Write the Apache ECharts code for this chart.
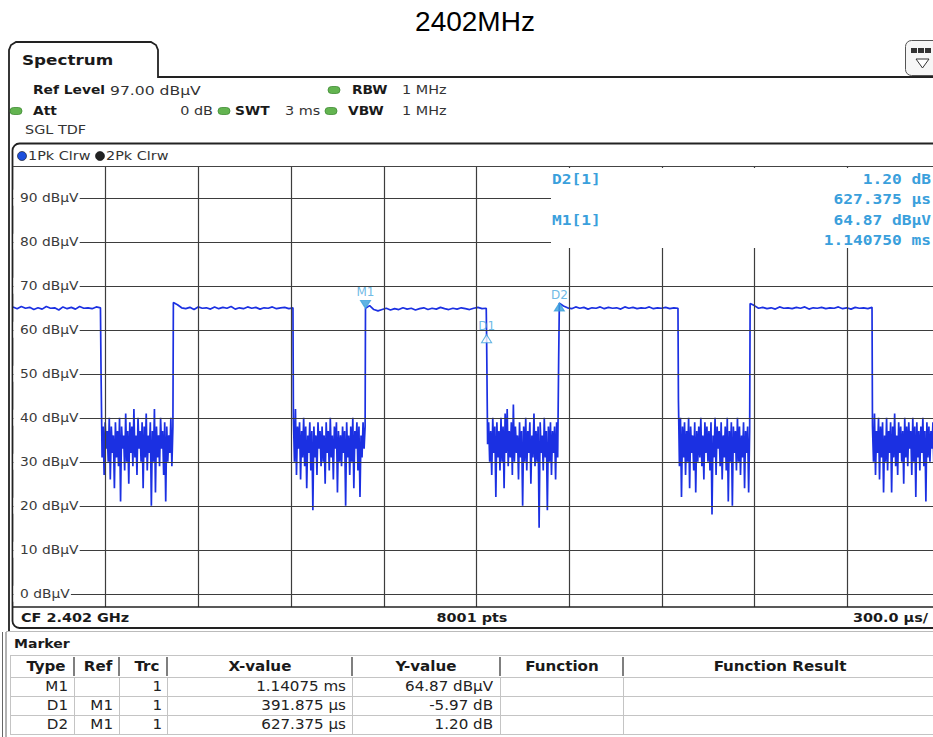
<!DOCTYPE html>
<html>
<head>
<meta charset="utf-8">
<script src="https://cdn.jsdelivr.net/npm/echarts@6/dist/echarts.min.js"></script>
<style>
html,body{margin:0;padding:0;background:#fff;}
#c{width:933px;height:737px;}
</style>
</head>
<body>
<div id="c"></div>
<script>
// ---------------- DATA ----------------
const titleText = '2402MHz';

// trace levels (dBµV), one array per burst / gap, in time order
const high0 = [65.2, 64.8, 65.3, 64.9, 65.1, 64.6, 65.0, 64.7, 65.3, 64.9, 65.0, 64.5, 65.2, 64.8, 65.1, 64.7, 65.3, 64.9, 65.0, 64.8, 65.2, 65.0];
const noise1 = [50, 31, 38, 27, 39, 33, 37, 30, 40, 26, 38, 32, 36, 24, 39, 31, 37, 29, 40, 21, 38, 33, 36, 28, 41, 30, 37, 25, 39, 32, 38, 29, 42, 31, 36, 27, 40, 33, 37, 30, 39, 24, 38, 31, 41, 28, 36, 32, 39, 20, 37, 30, 42, 23, 38, 31, 36, 29, 40, 33, 37, 27, 39, 21, 38, 30, 36, 32, 40, 29, 38];
const high1 = [66.2, 65.7, 65.0, 64.8, 65.1, 64.6, 65.2, 64.9, 65.0, 64.7, 65.2, 64.8, 65.1, 64.9, 65.3, 64.7, 65.0, 64.8, 65.2, 64.9, 65.1, 64.7, 65.0, 64.9, 65.2, 64.8, 65.0, 65.1, 64.8, 65.0];
const noise2 = [40, 30, 42, 27, 38, 33, 39, 26, 37, 31, 40, 29, 38, 24, 36, 32, 39, 28, 37, 19, 38, 31, 36, 27, 39, 33, 37, 29, 38, 30, 36, 25, 39, 32, 37, 28, 40, 31, 36, 26, 38, 33, 39, 23, 37, 30, 36, 29, 38, 32, 37, 20, 39, 31, 36, 27, 38, 30, 40, 24, 37, 33, 39, 28, 38, 22, 36, 31, 39, 33, 38];
const high2 = [64.87, 65.5, 64.6, 64.3, 64.6, 64.9, 64.5, 64.8, 64.6, 65.0, 64.7, 64.9, 64.5, 64.8, 65.0, 64.6, 64.9, 64.7, 65.1, 64.8, 64.6, 64.9, 64.7, 65.0, 64.8, 64.6, 64.9, 65.1, 64.8, 64.9];
const noise3 = [58.9, 34, 39, 30, 37, 27, 40, 32, 38, 22, 39, 31, 37, 28, 40, 30, 38, 24, 41, 32, 42, 29, 37, 31, 39, 27, 43, 30, 38, 32, 36, 26, 39, 31, 37, 20, 38, 30, 40, 28, 37, 32, 39, 25, 36, 31, 41, 29, 37, 30, 38, 15, 39, 32, 36, 28, 40, 31, 37, 19, 38, 30, 39, 27, 37, 32, 38, 26, 39, 31, 54];
const high3 = [66.07, 65.4, 65.0, 64.8, 65.2, 64.9, 65.1, 64.7, 65.0, 64.9, 65.2, 64.8, 65.1, 64.9, 65.0, 64.7, 65.2, 64.9, 65.1, 64.8, 65.0, 64.9, 65.2, 64.8, 65.0, 64.9, 65.1, 64.8, 65.0, 64.9];
const noise4 = [44, 29, 40, 22, 38, 31, 39, 27, 37, 30, 40, 24, 38, 32, 36, 28, 39, 23, 37, 30, 38, 31, 40, 29, 36, 26, 39, 32, 38, 30, 37, 28, 39, 18, 36, 31, 40, 27, 38, 33, 37, 29, 39, 26, 36, 31, 38, 28, 40, 21, 37, 30, 39, 20, 38, 32, 37, 28, 40, 30, 38, 27, 36, 31, 39, 24, 37, 32, 38, 23, 37];
const high4 = [66.0, 65.5, 64.9, 65.1, 64.8, 65.0, 64.7, 65.2, 64.9, 65.0, 64.8, 65.1, 64.9, 65.2, 64.7, 65.0, 64.9, 65.1, 64.8, 65.0, 64.9, 65.2, 64.8, 65.0, 64.7, 65.1, 64.9, 65.0, 64.8, 65.1];
const noise5 = [38, 30, 41, 27, 37, 32, 40, 26, 38, 31, 39, 23, 36, 30, 40, 28, 37, 32, 39, 23, 38, 31, 41, 29, 36, 27, 39, 32, 38, 30, 37, 25, 40, 31, 38, 29, 39, 33, 37, 27, 40, 30, 38, 22, 39, 31, 37, 28, 38, 32, 40, 29, 37, 21, 39, 31, 38, 30, 37, 33, 39, 28, 38, 31, 40, 30, 37, 32];

// time span (ms) of each array above
const segStart = [0, 0.285, 0.519, 0.9075, 1.14075, 1.532625, 1.768125, 2.1535, 2.3855, 2.7815];
const segEnd   = [0.283, 0.5175, 0.906, 1.1395, 1.5315, 1.766, 2.152, 2.384, 2.780, 3.0];
const segValues = [high0, noise1, high1, noise2, high2, noise3, high3, noise4, high4, noise5];

// axes (time in ms, level in dBµV)
const xMin = 0, xMax = 3;           // 300 µs/div, 10 div
const yMin = -3, yMax = 97;         // ref level 97 dBµV, 10 dB/div
const xDivTimes = [0.3, 0.6, 0.9, 1.2, 1.5, 1.8, 2.1, 2.4, 2.7];
const yTickValues = [0, 10, 20, 30, 40, 50, 60, 70, 80, 90];
const yTickLabels = ['0 dBµV', '10 dBµV', '20 dBµV', '30 dBµV', '40 dBµV', '50 dBµV', '60 dBµV', '70 dBµV', '80 dBµV', '90 dBµV'];

// markers
const markerNames = ['M1', 'D1', 'D2'];
const markerTimes = [1.14075, 1.532625, 1.768125];
const markerLevels = [64.87, 58.90, 66.07];

// marker info box
const infoLabels = ['D2[1]', 'M1[1]'];
const infoValues = ['1.20 dB', '627.375 µs', '64.87 dBµV', '1.140750 ms'];

// marker table
const tableHeader = ['Type', 'Ref', 'Trc', 'X-value', 'Y-value', 'Function', 'Function Result'];
const tableRows = [
  ['M1', '', '1', '1.14075 ms', '64.87 dBµV', '', ''],
  ['D1', 'M1', '1', '391.875 µs', '-5.97 dB', '', ''],
  ['D2', 'M1', '1', '627.375 µs', '1.20 dB', '', '']
];

// settings text
const hdrRefLabel = 'Ref Level', hdrRefValue = '97.00 dBµV';
const hdrAtt = 'Att', hdrAttValue = '0 dB';
const hdrRBW = 'RBW', hdrRBWValue = '1 MHz';
const hdrSWT = 'SWT', hdrSWTValue = '3 ms';
const hdrVBW = 'VBW', hdrVBWValue = '1 MHz';
const hdrMode = 'SGL TDF';
const traceNames = ['1Pk Clrw', '2Pk Clrw'];
const footLeft = 'CF 2.402 GHz', footMid = '8001 pts', footRight = '300.0 µs/';

// ---------------- BUILD ----------------
const trace = [];
segValues.forEach((vals, s) => {
  const n = vals.length;
  vals.forEach((v, k) => {
    trace.push([segStart[s] + (segEnd[s] - segStart[s]) * k / (n - 1), v]);
  });
});

const TRACE = '#1b30e2';
const MK = '#3aa0dc';
const SX = 1.2;
const UI = '"DejaVu Sans"';
const UIC = '"DejaVu Sans Condensed"';
const MONO = '"DejaVu Sans Mono"';

function T(x, y, text, font, opt) {
  opt = opt || {};
  const al = opt.align || 'left';
  const style = {
    text: text, font: font, fill: opt.fill || '#1a1a1a',
    align: al, textAlign: al, verticalAlign: 'middle', textVerticalAlign: 'middle'
  };
  if (opt.bg) { style.backgroundColor = opt.bg; style.padding = opt.padding; }
  return { type: 'text', x: x, y: y, z: opt.z || 20, scaleX: opt.sx || SX, silent: true, style: style };
}
function L(x1, y1, x2, y2, color, w, z) {
  return { type: 'line', z: z || 12, silent: true, shape: { x1: x1, y1: y1, x2: x2, y2: y2 },
    style: { stroke: color, lineWidth: w } };
}
function pill(x, y) {
  return { type: 'rect', z: 20, silent: true, shape: { x: x - 6, y: y - 3.5, width: 12, height: 7, r: 3.5 },
    style: { fill: '#63b450', stroke: '#3f8c34', lineWidth: 0.8 } };
}
function dot(x, y, c) {
  return { type: 'circle', z: 20, silent: true, shape: { cx: x, cy: y, r: 4.5 },
    style: { fill: c, stroke: '#111', lineWidth: 0.6 } };
}

const markerShape = {
  M1: { symbol: 'path://M0,0L10,0L5,8Z', offset: [0, -4], fill: MK },
  D1: { symbol: 'path://M5,0L10,8L0,8Z', offset: [0, 4], fill: '#ffffff' },
  D2: { symbol: 'path://M5,0L10,8L0,8Z', offset: [0, 4], fill: MK }
};

const chart = echarts.init(document.getElementById('c'), null, { renderer: 'svg' });

const option = {
  animation: false,
  backgroundColor: '#ffffff',
  grid: { left: 13, top: 167, width: 927, height: 440, show: false, outerBoundsMode: 'none', containLabel: false },
  xAxis: { type: 'value', min: xMin, max: xMax, show: false },
  yAxis: { type: 'value', min: yMin, max: yMax, show: false },
  series: [
    {
      type: 'line', data: [[xMin - 1, yMin - 10]], z: 1, silent: true, symbol: 'none',
      lineStyle: { opacity: 0 },
      markLine: {
        silent: true, animation: false, symbol: ['none', 'none'], label: { show: false },
        lineStyle: { color: '#3d3d3d', width: 1.2, type: 'solid' },
        emphasis: { disabled: true },
        data: xDivTimes.map(t => ({ xAxis: t })).concat(yTickValues.map(v => ({ yAxis: v })))
      }
    },
    {
      type: 'line', data: trace, z: 3, silent: true, symbol: 'none', showSymbol: false,
      lineStyle: { color: TRACE, width: 1.7 }
    },
    {
      type: 'scatter', z: 4, silent: true,
      data: markerNames.map((nm, i) => ({
        name: nm, value: [markerTimes[i], markerLevels[i]],
        symbol: markerShape[nm].symbol, symbolSize: [10, 8], symbolOffset: markerShape[nm].offset,
        itemStyle: { color: markerShape[nm].fill, borderColor: MK, borderWidth: 1.1 }
      })),
      label: { show: true, position: 'top', distance: 2, formatter: '{b}', color: '#4aa8de', fontSize: 12, fontFamily: 'DejaVu Sans' }
    }
  ]
};
chart.setOption(option);

// ---------------- FRAME / PANELS ----------------
const g = [];
// title
g.push(T(475, 21, titleText, '28px "Liberation Sans"', { align: 'center', sx: 1, fill: '#000' }));

// tab outline
g.push({ type: 'polyline', z: 12, silent: true,
  shape: { points: [[9, 632], [9, 50], [11, 45], [16, 42], [151, 42], [156, 45], [158, 50], [158, 77], [945, 77]] },
  style: { stroke: '#222', lineWidth: 1.8, fill: null } });
g.push(T(22, 60, 'Spectrum', 'bold 14px ' + UI, {}));

// top-right icon
g.push({ type: 'rect', z: 12, silent: true, shape: { x: 905.5, y: 40.5, width: 40, height: 35, r: 6 },
  style: { fill: '#f6f6f6', stroke: '#555', lineWidth: 1 } });
[911, 918, 925].forEach(x => g.push({ type: 'rect', z: 13, silent: true, shape: { x: x, y: 48, width: 6, height: 5 }, style: { fill: '#333' } }));
g.push({ type: 'polygon', z: 13, silent: true, shape: { points: [[916, 59], [929, 59], [922.5, 68]] }, style: { fill: '#fff', stroke: '#333', lineWidth: 1 } });

// settings header
g.push(T(33, 90, hdrRefLabel, 'bold 11.5px ' + UI));
g.push(T(110, 90, hdrRefValue, '13px ' + UI, { fill: '#333' }));
g.push(pill(334, 90));
g.push(T(352, 90, hdrRBW, 'bold 11.5px ' + UI));
g.push(T(402, 90, hdrRBWValue, '12px ' + UI, { fill: '#333' }));

g.push(pill(16, 111));
g.push(T(33, 111, hdrAtt, 'bold 11.5px ' + UI));
g.push(T(213, 111, hdrAttValue, '12px ' + UI, { align: 'right', fill: '#333' }));
g.push(pill(224, 111));
g.push(T(235, 111, hdrSWT, 'bold 11.5px ' + UI));
g.push(T(285, 111, hdrSWTValue, '12px ' + UI, { fill: '#333' }));
g.push(pill(331, 111));
g.push(T(348, 111, hdrVBW, 'bold 11.5px ' + UI));
g.push(T(402, 111, hdrVBWValue, '12px ' + UI, { fill: '#333' }));

g.push(T(25, 130, hdrMode, '12px ' + UI, { fill: '#333' }));

// inner window frame
g.push({ type: 'rect', z: 12, silent: true, shape: { x: 12.5, y: 143.5, width: 940, height: 484.5, r: [7, 0, 0, 7] },
  style: { fill: null, stroke: '#222', lineWidth: 1.8 } });
// trace header row
g.push(dot(22, 156, '#1d4fdc'));
g.push(T(28, 156, traceNames[0], '12px ' + UI, { fill: '#333' }));
g.push(dot(100, 156, '#222'));
g.push(T(106, 156, traceNames[1], '12px ' + UI, { fill: '#333' }));
// plot borders
g.push(L(13, 166.5, 945, 166.5, '#444', 1.2));
g.push(L(13, 607, 945, 607, '#222', 1.6));

// cover for marker info area
g.push({ type: 'rect', z: 5, silent: true, shape: { x: 551, y: 168, width: 400, height: 80 }, style: { fill: '#fff' } });
g.push(T(552, 179, infoLabels[0], 'bold 13.5px ' + MONO, { fill: MK }));
g.push(T(552, 220, infoLabels[1], 'bold 13.5px ' + MONO, { fill: MK }));
[179, 199.5, 220, 240.5].forEach((y, i) => g.push(T(931, y, infoValues[i], 'bold 13.5px ' + MONO, { fill: MK, align: 'right' })));

// footer of the diagram
g.push(T(21, 618, footLeft, 'bold 12px ' + UI));
g.push(T(472, 618, footMid, 'bold 12px ' + UI, { align: 'center' }));
g.push(T(928, 618, footRight, 'bold 12px ' + UI, { align: 'right' }));

// marker table area
g.push(L(2.5, 632, 2.5, 737, '#666', 1));
g.push(L(6, 632, 6, 737, '#666', 1));
g.push(L(6, 631.5, 945, 631.5, '#bbb', 1));
g.push(T(14, 643, 'Marker', 'bold 13px ' + UIC));

const colX = [10, 74, 119, 167, 352, 500, 623, 945];
const rowY = [655, 677, 696, 715, 734];
rowY.forEach(y => g.push(L(10, y + 0.5, 945, y + 0.5, '#c4c4c4', 1)));
g.push(L(10.5, 655, 10.5, 734, '#c4c4c4', 1));
colX.slice(1, 7).forEach(x => {
  g.push(L(x, 657, x, 676, '#555', 1.5));
  g.push(L(x + 0.5, 677, x + 0.5, 734, '#c4c4c4', 1));
});
const headCx = [46, 98, 147, 260, 426, 562, 780];
tableHeader.forEach((h, i) => g.push(T(headCx[i], 666, h, 'bold 14px ' + UIC, { align: 'center' })));
const cellRight = [68, 113, 162, 346, 493, 615, 935];
const rowCy = [686.5, 705.5, 724.5];
tableRows.forEach((r, j) => r.forEach((cell, i) => {
  if (cell) g.push(T(cellRight[i], rowCy[j], cell, '14px ' + UIC, { align: 'right', fill: '#222' }));
}));

// y tick labels, placed through the axis scale
yTickValues.forEach((v, i) => {
  const p = chart.convertToPixel({ gridIndex: 0 }, [xMin, v]);
  g.push(T(13.5, p[1], yTickLabels[i], '11.5px ' + UI, { fill: '#3a3a3a', bg: '#fff', padding: [2, 1, 2, 5.5], z: 15 }));
});

chart.setOption({ graphic: { elements: g } });
</script>
</body>
</html>
